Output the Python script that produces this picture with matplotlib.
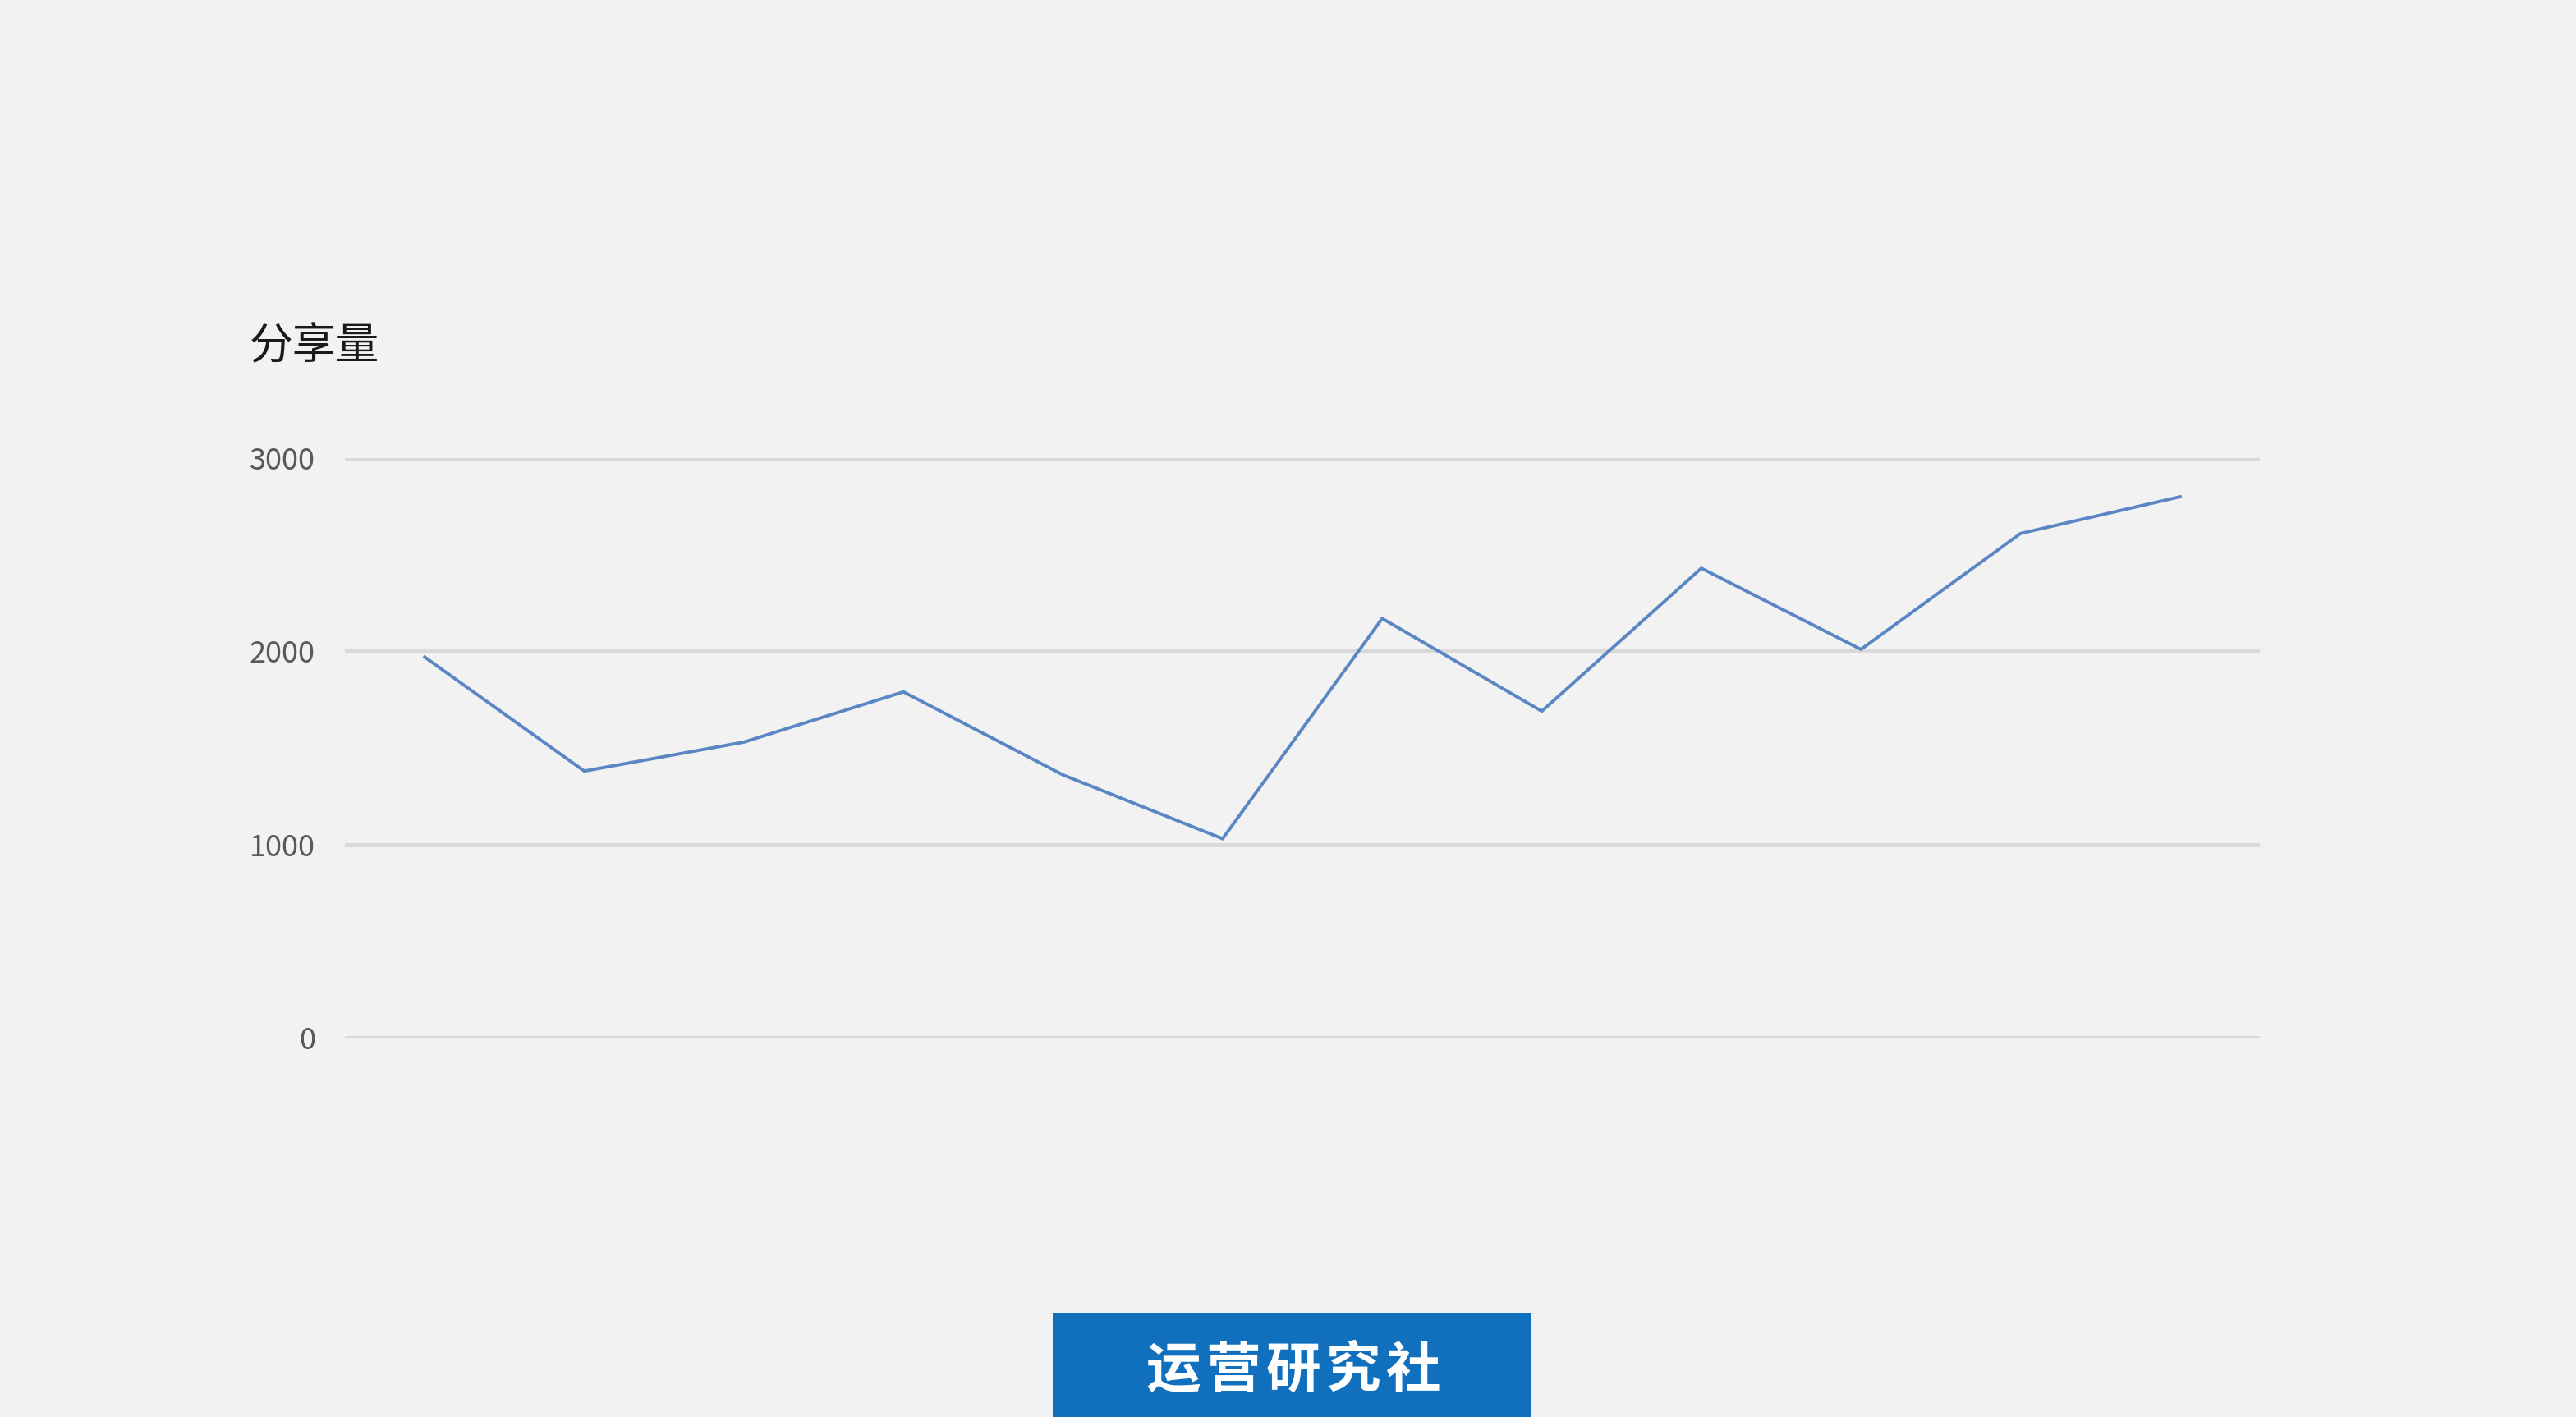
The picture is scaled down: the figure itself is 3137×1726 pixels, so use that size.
import matplotlib.pyplot as plt
from matplotlib.patches import Rectangle

plt.rcParams['font.family'] = ['Noto Sans CJK SC', 'DejaVu Sans']

# 12 periods, no labels shown on the x axis
periods = list(range(1, 13))
shares = [1970, 1380, 1530, 1790, 1360, 1030, 2170, 1690, 2430, 2010, 2610, 2800]
yticks = [0, 1000, 2000, 3000]

bg = '#f2f2f2'
fig = plt.figure(figsize=(31.37, 17.26), dpi=100)
fig.patch.set_facecolor(bg)

ax = fig.add_axes([0.1339, 0.2677, 0.7434, 0.409])
ax.set_facecolor(bg)

x = list(range(len(periods)))
ax.plot(x, shares, color='#5a86c3', linewidth=2.8, solid_joinstyle='miter')

ax.set_xlim(-0.5, len(periods) - 0.5)
ax.set_ylim(0, 3000)
ax.set_yticks(yticks)
ax.set_yticklabels([str(v) for v in yticks], fontsize=26, color='#595959')
ax.set_xticks([])
ax.tick_params(axis='y', length=0, pad=26)
for side in ['top', 'right', 'bottom', 'left']:
    ax.spines[side].set_visible(False)
ax.yaxis.grid(True, color='#d9d9d9', linewidth=3.6)
ax.set_axisbelow(True)

# axis title top left
fig.text(304 / 3137, 1 - 422 / 1726, '分享量', fontsize=38, color='#1a1a1a',
         ha='left', va='center')

# blue brand box at the bottom
fig.patches.append(Rectangle((1282 / 3137, 0), (1865 - 1282) / 3137, (1726 - 1599) / 1726,
                             transform=fig.transFigure, facecolor='#1070bd',
                             edgecolor='none'))
brand = '运营研究社'
for i, ch in enumerate(brand):
    cx = 1575 + (i - 2) * 73
    fig.text(cx / 3137, 1 - 1670 / 1726, ch, fontsize=48,
             fontweight='bold', color='white', ha='center', va='center')

fig.savefig('out.png', dpi=100, facecolor=bg)
